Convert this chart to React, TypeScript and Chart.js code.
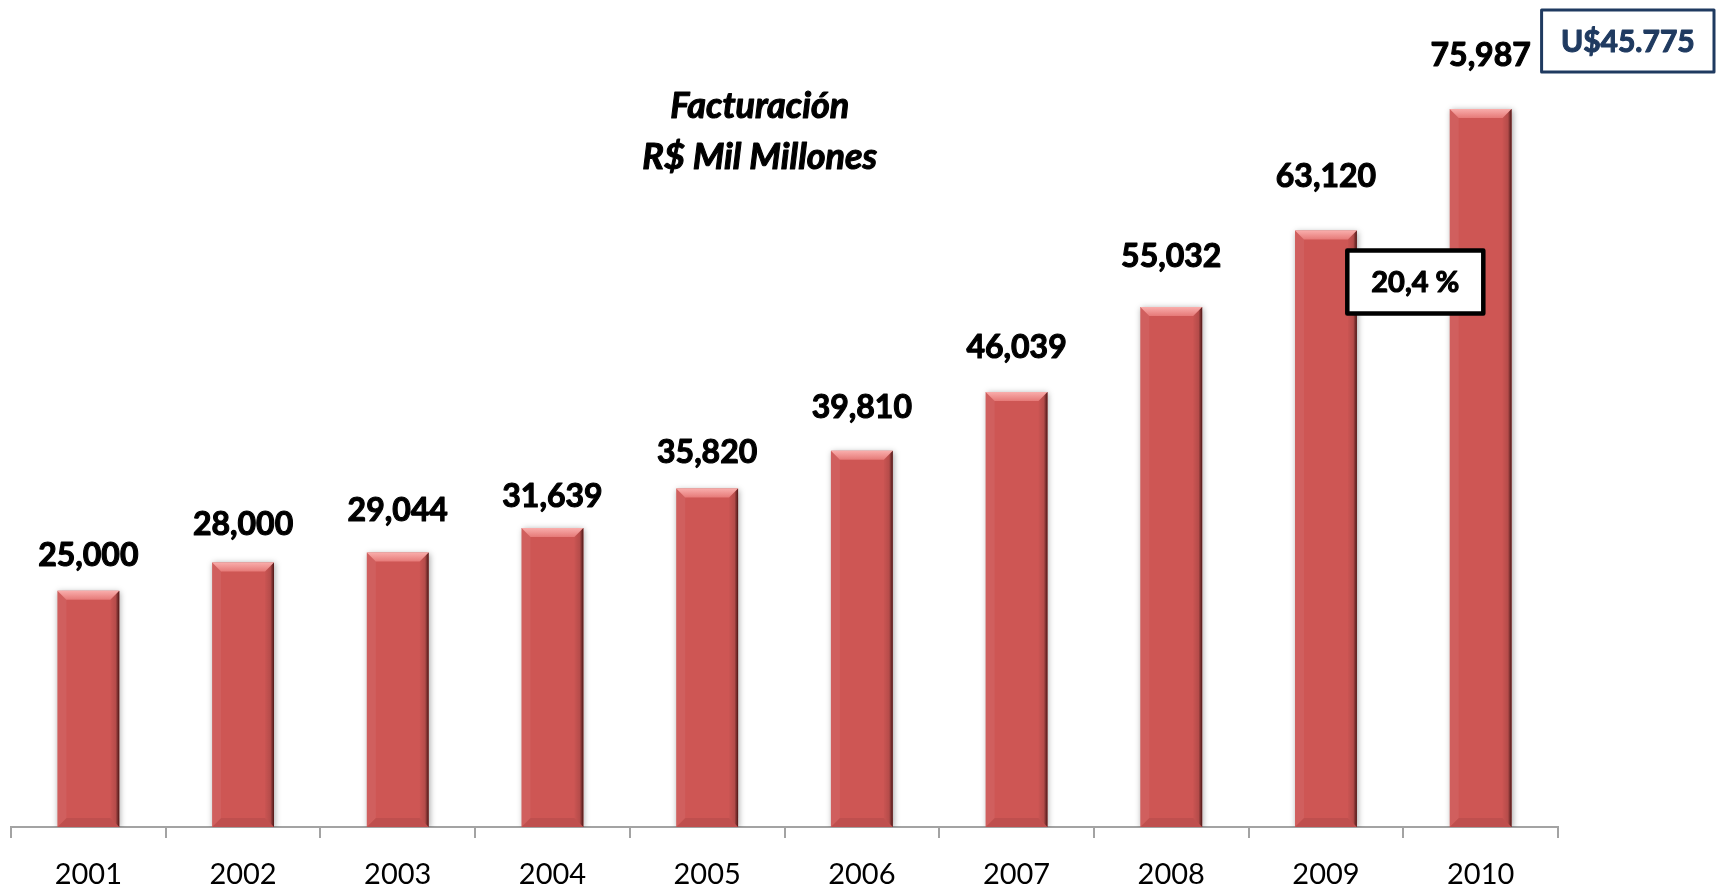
import React, { useEffect, useRef } from "react";
import { Chart, registerables } from "chart.js";

Chart.register(...registerables);

const years = ["2001", "2002", "2003", "2004", "2005", "2006", "2007", "2008", "2009", "2010"];
const revenue = [25000, 28000, 29044, 31639, 35820, 39810, 46039, 55032, 63120, 75987];
const valueLabels = ["25,000", "28,000", "29,044", "31,639", "35,820", "39,810", "46,039", "55,032", "63,120", "75,987"];
const titleLines = ["Facturación", "R$ Mil Millones"];
const usdNote = "U$45.775";
const growthNote = "20,4 %";

// label lift above each bar top (px, style only)
const labelLift = [25, 27, 32, 21, 26, 33, 34, 40, 44, 43];

const BAR = "#CE5654";

function heavyText(ctx: any, text: string, x: number, y: number, color: string) {
  ctx.fillStyle = color;
  ctx.strokeStyle = color;
  ctx.lineWidth = 1.1;
  ctx.lineJoin = "round";
  ctx.strokeText(text, x, y);
  ctx.fillText(text, x, y);
}

const bevelPlugin = {
  id: "bevel",
  beforeDatasetDraw(chart: any) {
    const ctx = chart.ctx;
    ctx.save();
    ctx.shadowColor = "rgba(0,0,0,0.35)";
    ctx.shadowBlur = 6;
    ctx.shadowOffsetX = 1;
    ctx.shadowOffsetY = 1;
  },
  afterDatasetDraw(chart: any) {
    chart.ctx.restore();
  },
  afterDatasetsDraw(chart: any) {
    const ctx = chart.ctx;
    const meta = chart.getDatasetMeta(0);
    meta.data.forEach((bar: any) => {
      const { x, y, base, width } = bar.getProps(["x", "y", "base", "width"], true);
      const x0 = x - width / 2;
      const x1 = x + width / 2;
      const b = 9;
      ctx.save();
      let g = ctx.createLinearGradient(0, y, 0, y + b);
      g.addColorStop(0, "#F9AEAC");
      g.addColorStop(1, "#E67A78");
      ctx.fillStyle = g;
      ctx.beginPath();
      ctx.moveTo(x0, y);
      ctx.lineTo(x1, y);
      ctx.lineTo(x1 - b, y + b);
      ctx.lineTo(x0 + b, y + b);
      ctx.closePath();
      ctx.fill();
      ctx.fillStyle = "rgba(255,255,255,0.06)";
      ctx.beginPath();
      ctx.moveTo(x0, y);
      ctx.lineTo(x0 + b, y + b);
      ctx.lineTo(x0 + b, base - b);
      ctx.lineTo(x0, base);
      ctx.closePath();
      ctx.fill();
      g = ctx.createLinearGradient(x1 - b, 0, x1, 0);
      g.addColorStop(0, "rgba(0,0,0,0.02)");
      g.addColorStop(0.6, "rgba(0,0,0,0.12)");
      g.addColorStop(1, "rgba(40,0,0,0.75)");
      ctx.fillStyle = g;
      ctx.beginPath();
      ctx.moveTo(x1, y);
      ctx.lineTo(x1 - b, y + b);
      ctx.lineTo(x1 - b, base - b);
      ctx.lineTo(x1, base);
      ctx.closePath();
      ctx.fill();
      ctx.fillStyle = "rgba(0,0,0,0.07)";
      ctx.beginPath();
      ctx.moveTo(x0, base);
      ctx.lineTo(x1, base);
      ctx.lineTo(x1 - b, base - b);
      ctx.lineTo(x0 + b, base - b);
      ctx.closePath();
      ctx.fill();
      ctx.restore();
    });
  },
};

const annotPlugin = {
  id: "annot",
  afterDraw(chart: any) {
    const ctx = chart.ctx;
    const area = chart.chartArea;
    const meta = chart.getDatasetMeta(0);
    const xs = chart.scales.x;
    ctx.save();
    ctx.font = "bold 32px Lato";
    ctx.textAlign = "center";
    ctx.textBaseline = "alphabetic";
    meta.data.forEach((bar: any, i: number) => {
      heavyText(ctx, valueLabels[i], bar.x, bar.y - labelLift[i], "#000");
    });
    ctx.font = "italic bold 36px Lato";
    const tx = area.left + area.width * 0.484;
    heavyText(ctx, titleLines[0], tx, area.top + 47, "#000");
    heavyText(ctx, titleLines[1], tx, area.top + 98, "#000");

    const last = meta.data[meta.data.length - 1];
    const lastRight = last.x + last.width / 2;
    const bx0 = lastRight + 30;
    const bx1 = chart.width - 2;
    const by0 = 10;
    const by1 = 72;
    ctx.fillStyle = "#fff";
    ctx.fillRect(bx0, by0, bx1 - bx0, by1 - by0);
    ctx.strokeStyle = "#1F3A60";
    ctx.lineWidth = 3;
    ctx.strokeRect(bx0, by0, bx1 - bx0, by1 - by0);
    ctx.font = "bold 30px Lato";
    ctx.textBaseline = "middle";
    heavyText(ctx, usdNote, (bx0 + bx1) / 2, (by0 + by1) / 2 + 1, "#1F3A60");

    const step = xs.getPixelForValue(1) - xs.getPixelForValue(0);
    const boundary = xs.getPixelForValue(8) + step / 2;
    const gcx = boundary + 12;
    const gcy = area.top + 211;
    const gw = 136;
    const gh = 63;
    ctx.fillStyle = "#fff";
    ctx.fillRect(gcx - gw / 2, gcy - gh / 2, gw, gh);
    ctx.strokeStyle = "#000";
    ctx.lineWidth = 4.5;
    ctx.strokeRect(gcx - gw / 2, gcy - gh / 2, gw, gh);
    ctx.font = "bold 29px Lato";
    heavyText(ctx, growthNote, gcx, gcy + 1, "#000");
    ctx.restore();
  },
};

export default function App() {
  const ref = useRef<HTMLCanvasElement>(null);
  useEffect(() => {
    document.body.style.margin = "0";
    const canvas = ref.current!;
    const chart = new Chart(canvas, {
      type: "bar",
      data: {
        labels: years,
        datasets: [
          {
            data: revenue,
            backgroundColor: BAR,
            borderWidth: 0,
            categoryPercentage: 1,
            barPercentage: 0.4,
          },
        ],
      },
      options: {
        animation: false,
        responsive: false,
        devicePixelRatio: 1,
        layout: { padding: { left: 11, right: 158, top: 71, bottom: 0 } },
        plugins: { legend: { display: false }, title: { display: false }, tooltip: { enabled: false } },
        scales: {
          y: { display: false, min: 0, max: 80000 },
          x: {
            grid: {
              offset: true,
              drawOnChartArea: false,
              drawTicks: true,
              tickLength: 11,
              color: "#A3A3A3",
              lineWidth: 2,
            },
            border: { color: "#A3A3A3", width: 2 },
            ticks: { font: { family: "Lato", size: 29 }, color: "#000", padding: 19 },
            afterFit(s: any) {
              s.height = 59;
            },
          },
        },
      },
      plugins: [bevelPlugin, annotPlugin],
    });
    return () => chart.destroy();
  }, []);
  return (
    <div style={{ width: 1716, height: 886, background: "#fff" }}>
      <canvas ref={ref} width={1716} height={886} />
    </div>
  );
}
